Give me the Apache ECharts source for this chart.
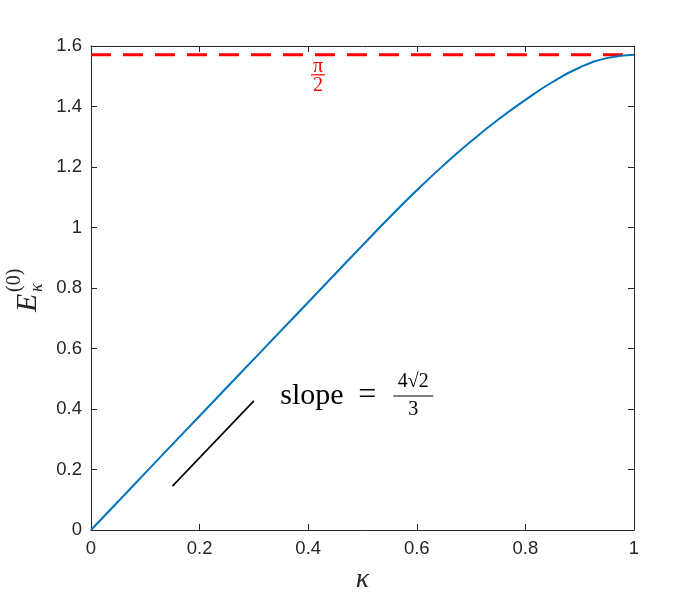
<!DOCTYPE html>
<html><head><meta charset="utf-8">
<script src="https://cdn.jsdelivr.net/npm/echarts@6/dist/echarts.min.js"></script>
<style>html,body{margin:0;padding:0;background:#fff}#c{width:700px;height:600px}</style>
</head><body><div id="c"></div>
<script>
// ---- data ----
const kappa  = [0, 0.05, 0.10, 0.15, 0.20, 0.25, 0.30, 0.35, 0.40, 0.45, 0.50, 0.55, 0.60, 0.65, 0.70, 0.75, 0.80, 0.85, 0.90, 0.95, 1.00];
const energy = [0, 0.094, 0.189, 0.283, 0.377, 0.471, 0.565, 0.659, 0.753, 0.847, 0.941, 1.034, 1.123, 1.207, 1.285, 1.357, 1.422, 1.481, 1.529, 1.560, 1.5708];
const xTicks = [0, 0.2, 0.4, 0.6, 0.8, 1];
const yTicks = [0, 0.2, 0.4, 0.6, 0.8, 1, 1.2, 1.4, 1.6];
const limitValue = Math.PI / 2;
const slopeX = [0.15, 0.30];
const slopeY = [0.145, 0.427];
const piLabelX = 0.418;

const axisColor = '#262626';
const chart = echarts.init(document.getElementById('c'), null, {renderer: 'canvas'});

function axisCommon(showLabels) {
  return {
    axisLine: {show: true, onZero: false, lineStyle: {color: axisColor, width: 1}},
    axisTick: {show: true, inside: true, length: 6, lineStyle: {color: axisColor, width: 1}},
    axisLabel: {show: showLabels, color: axisColor, fontSize: 18.5, fontFamily: 'Liberation Sans, Arial, sans-serif', margin: 9},
    splitLine: {show: false}
  };
}

const option = {
  animation: false,
  backgroundColor: '#fff',
  grid: {left: 91, right: 66, top: 46, bottom: 70, containLabel: false},
  xAxis: [
    Object.assign({type: 'value', min: xTicks[0], max: xTicks[xTicks.length-1], interval: 0.2, position: 'bottom'}, axisCommon(true)),
    Object.assign({type: 'value', min: xTicks[0], max: xTicks[xTicks.length-1], interval: 0.2, position: 'top'}, axisCommon(false))
  ],
  yAxis: [
    Object.assign({type: 'value', min: yTicks[0], max: yTicks[yTicks.length-1], interval: 0.2, position: 'left'}, axisCommon(true)),
    Object.assign({type: 'value', min: yTicks[0], max: yTicks[yTicks.length-1], interval: 0.2, position: 'right'}, axisCommon(false))
  ],
  series: [
    {
      type: 'line', xAxisIndex: 0, yAxisIndex: 0,
      data: [[xTicks[0], limitValue], [xTicks[xTicks.length-1], limitValue]],
      showSymbol: false, symbol: 'none',
      lineStyle: {color: '#FF0000', width: 3, type: [20, 12]},
      z: 3
    },
    {
      type: 'line', xAxisIndex: 0, yAxisIndex: 0,
      data: kappa.map((k, i) => [k, energy[i]]),
      showSymbol: false, symbol: 'none', smooth: 0.5,
      lineStyle: {color: '#0072BD', width: 2},
      z: 4
    },
    {
      type: 'line', xAxisIndex: 0, yAxisIndex: 0,
      data: slopeX.map((x, i) => [x, slopeY[i]]),
      showSymbol: false, symbol: 'none',
      lineStyle: {color: '#000000', width: 1.6},
      z: 4
    }
  ]
};
chart.setOption(option);

const px = (x, y) => chart.convertToPixel({xAxisIndex: 0, yAxisIndex: 0}, [x, y]);
const serif = 'Liberation Serif, Times New Roman, serif';
const grid0 = px(0, 0), grid1 = px(1, 1.6);
const midX = (grid0[0] + grid1[0]) / 2;

const piPos = px(piLabelX, limitValue);
const sa = px(0.345, 0.40);

chart.setOption({
  graphic: [
    // x-axis name
    {type: 'text', x: midX, y: grid0[1] + 50, style: {text: 'κ', font: 'italic 28px ' + serif, fill: axisColor, align: 'center', verticalAlign: 'middle'}},
    // y-axis name (rotated)
    {type: 'group', x: 28, y: 312, rotation: Math.PI / 2, children: [
      {type: 'text', x: 0, y: 0, style: {text: 'E', font: 'italic 30px ' + serif, fill: axisColor, align: 'left', verticalAlign: 'middle'}},
      {type: 'text', x: 20, y: 9, style: {text: 'κ', font: 'italic 18px ' + serif, fill: axisColor, align: 'left', verticalAlign: 'middle'}},
      {type: 'text', x: 20, y: -13, style: {text: '(0)', font: '20px ' + serif, fill: axisColor, align: 'left', verticalAlign: 'middle'}}
    ]},
    // pi/2 label
    {type: 'text', x: piPos[0], y: piPos[1] + 12, style: {text: 'π', font: '20px ' + serif, fill: '#FF0000', align: 'center', verticalAlign: 'middle'}},
    {type: 'line', shape: {x1: piPos[0] - 7, y1: piPos[1] + 20, x2: piPos[0] + 7, y2: piPos[1] + 20}, style: {stroke: '#FF0000', lineWidth: 1.2}},
    {type: 'text', x: piPos[0], y: piPos[1] + 31, style: {text: '2', font: '20px ' + serif, fill: '#FF0000', align: 'center', verticalAlign: 'middle'}},
    // slope label
    {type: 'text', x: sa[0] + 2, y: sa[1] - 13, style: {text: 'slope', font: '30px ' + serif, fill: '#000', align: 'left', verticalAlign: 'middle'}},
    {type: 'text', x: sa[0] + 89, y: sa[1] - 13, style: {text: '=', font: '32px ' + serif, fill: '#000', align: 'center', verticalAlign: 'middle'}},
    {type: 'text', x: sa[0] + 135, y: sa[1] - 27, style: {text: '4√2', font: '20px ' + serif, fill: '#000', align: 'center', verticalAlign: 'middle'}},
    {type: 'line', shape: {x1: sa[0] + 115, y1: sa[1] - 13, x2: sa[0] + 155, y2: sa[1] - 13}, style: {stroke: '#000', lineWidth: 1}},
    {type: 'text', x: sa[0] + 135, y: sa[1] + 1, style: {text: '3', font: '20px ' + serif, fill: '#000', align: 'center', verticalAlign: 'middle'}}
  ]
});
</script>
</body></html>
